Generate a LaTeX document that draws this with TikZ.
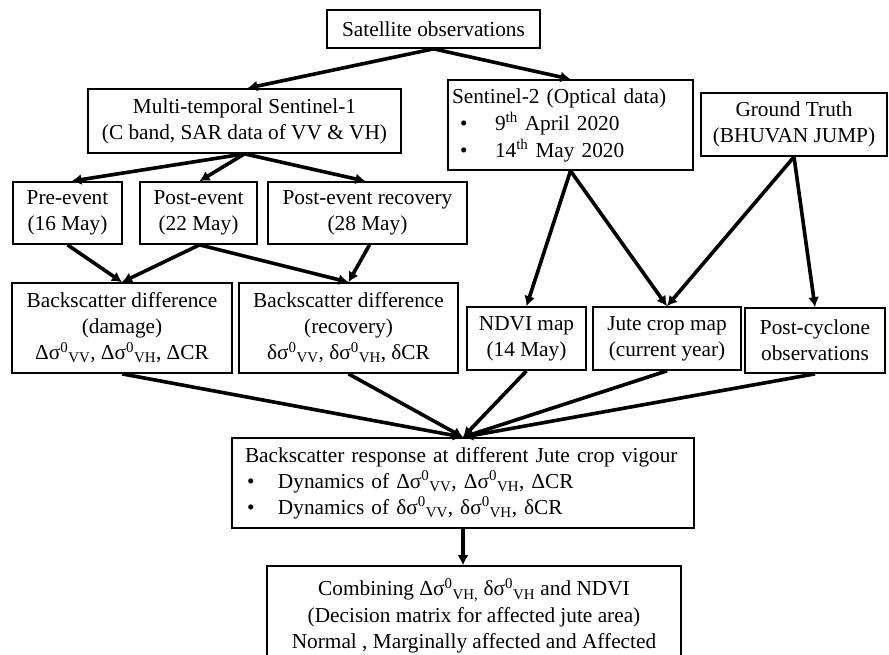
\documentclass[tikz,border=0pt]{standalone}
\usepackage{fontspec}
\setmainfont{Liberation Serif}
\usetikzlibrary{arrows.meta}
\begin{document}
\begin{tikzpicture}[x=1pt,y=-1pt,
  box/.style={draw, line width=1.7pt, inner sep=2pt, align=center,
    font=\fontsize{21.3}{26}\selectfont},
  arr/.style={line width=3.6pt, -{Latex[length=10pt,width=11pt]}}]
\useasboundingbox (0,0) rectangle (889,654);
\clip (0,0) rectangle (889,654);
\fill[white] (0,0) rectangle (889,654);
% nodes
\node[box, minimum width=213pt, minimum height=38pt] (sat) at (433.5,29) {Satellite observations};
\node[box, minimum width=313pt, minimum height=64pt] (multi) at (244.5,121) {Multi-temporal Sentinel-1\\(C band, SAR data of VV \& VH)};
\node[box, text width=237pt, inner xsep=4pt, minimum height=90pt, align=left,
  font=\fontsize{21.3}{27}\selectfont] (s2) at (570.5,125)
  {Sentinel-2 (Optical data)\\\makebox[43pt][l]{\hspace{8pt}•}9\textsuperscript{th} April 2020\\\makebox[43pt][l]{\hspace{8pt}•}14\textsuperscript{th} May 2020};
\node[box, minimum width=186pt, minimum height=63pt] (gt) at (794,124.5) {Ground Truth\\(BHUVAN JUMP)};
\node[box, minimum width=109pt, minimum height=62pt] (pre) at (67.5,213) {Pre-event\\(16 May)};
\node[box, minimum width=117pt, minimum height=62pt] (post) at (198.5,213) {Post-event\\(22 May)};
\node[box, minimum width=199pt, minimum height=62pt] (rec) at (367.5,213) {Post-event recovery\\(28 May)};
\node[box, minimum width=220pt, minimum height=90pt] (dmg) at (122,328)
  {Backscatter difference\\(damage)\\Δσ\textsuperscript{0}\textsubscript{VV}, Δσ\textsuperscript{0}\textsubscript{VH}, ΔCR};
\node[box, minimum width=219pt, minimum height=90pt] (recv) at (348.5,328)
  {Backscatter difference\\(recovery)\\δσ\textsuperscript{0}\textsubscript{VV}, δσ\textsuperscript{0}\textsubscript{VH}, δCR};
\node[box, minimum width=119pt, minimum height=63pt] (ndvi) at (526.5,338.5) {NDVI map\\(14 May)};
\node[box, minimum width=148pt, minimum height=63pt] (jute) at (667,338.5) {Jute crop map\\(current year)};
\node[box, minimum width=140pt, minimum height=65pt] (pc) at (815,340.5) {Post-cyclone\\observations};
\node[box, text width=436pt, inner xsep=13pt, minimum height=90pt, align=left] (resp) at (463,483)
  {Backscatter response at different Jute crop vigour\\
   \makebox[33pt][l]{\hspace{2pt}•}Dynamics of Δσ\textsuperscript{0}\textsubscript{VV}, Δσ\textsuperscript{0}\textsubscript{VH}, ΔCR\\
   \makebox[33pt][l]{\hspace{2pt}•}Dynamics of δσ\textsuperscript{0}\textsubscript{VV}, δσ\textsuperscript{0}\textsubscript{VH}, δCR};
\node[box, minimum width=414pt, minimum height=100pt, font=\fontsize{21.3}{26.5}\selectfont] (comb) at (474,616)
  {Combining Δσ\textsuperscript{0}\textsubscript{VH,} δσ\textsuperscript{0}\textsubscript{VH} and NDVI\\(Decision matrix for affected jute area)\\Normal , Marginally affected and Affected};
% connectors
\draw[arr] (sat.south) -- ([xshift=3pt]multi.north);
\draw[arr] (sat.south) -- (s2.north);
\draw[arr] (multi.south) -- ([xshift=4pt]pre.north);
\draw[arr] (multi.south) -- ([xshift=1pt]post.north);
\draw[arr] (multi.south) -- ([xshift=-2pt]rec.north);
\draw[arr] (pre.south) -- (dmg.north);
\draw[arr] ([xshift=1pt]post.south) -- (dmg.north);
\draw[arr] ([xshift=1pt]post.south) -- (recv.north);
\draw[arr] ([xshift=2pt]rec.south) -- (recv.north);
\draw[arr] (s2.south) -- (ndvi.north);
\draw[arr] (s2.south) -- (jute.north);
\draw[arr] (gt.south) -- (jute.north);
\draw[arr] (gt.south) -- (pc.north);
\draw[arr] (dmg.south) -- (resp.north);
\draw[arr] (recv.south) -- (resp.north);
\draw[arr] (ndvi.south) -- (resp.north);
\draw[arr] (jute.south) -- (resp.north);
\draw[arr] (pc.south) -- (resp.north);
\draw[arr] (resp.south) -- (resp.south |- comb.north);
\end{tikzpicture}
\end{document}
